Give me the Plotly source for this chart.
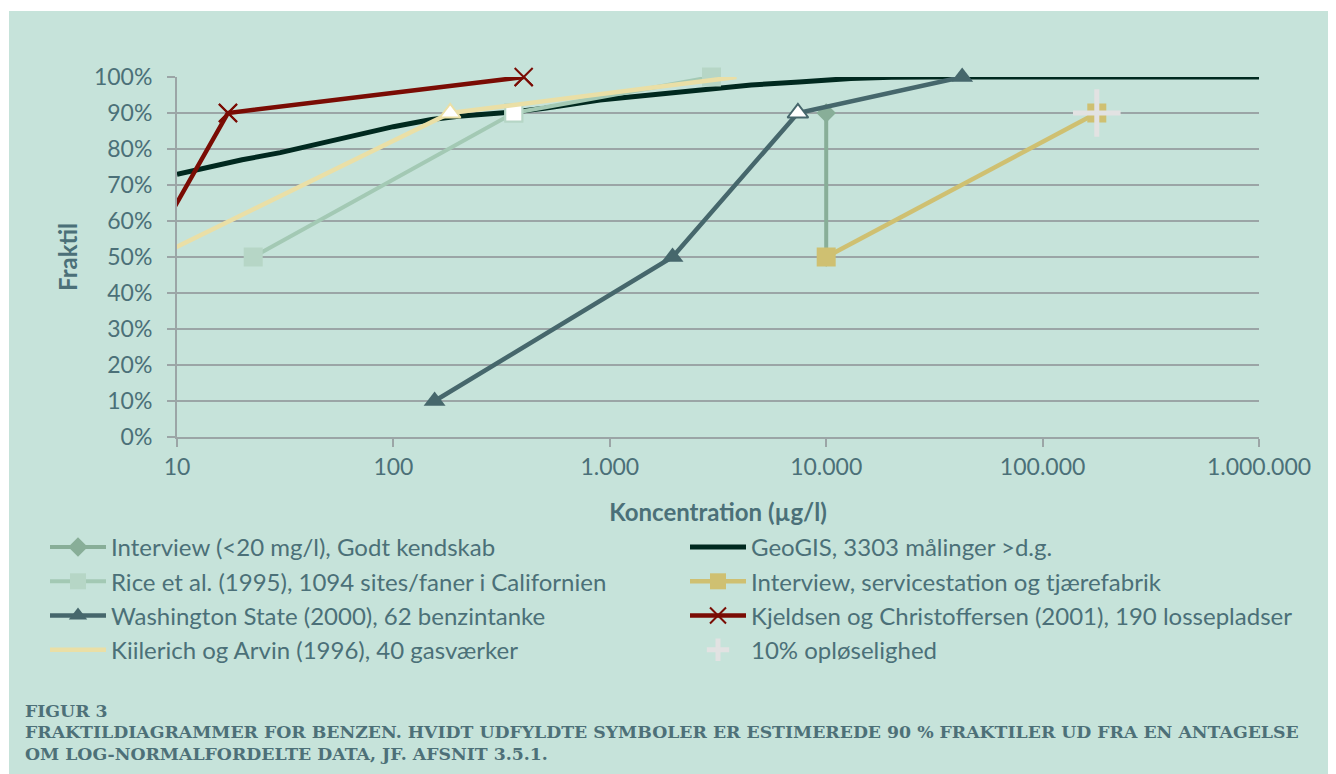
import plotly.graph_objects as go

# ---------------- data ----------------
godt_x = [10000, 10000]
godt_y = [0.50, 0.90]

geo_x = [10, 15, 20, 30, 50, 75, 100, 150, 200, 350, 500, 900, 1500,
         2600, 4500, 7500, 13000, 20000, 30000, 1000000]
geo_y = [0.73, 0.755, 0.77, 0.79, 0.822, 0.846, 0.862, 0.882, 0.891,
         0.902, 0.913, 0.936, 0.949, 0.964, 0.978, 0.986, 0.996, 0.999, 1.0, 1.0]

rice_x = [22.5, 360, 2950]
rice_y = [0.50, 0.90, 1.00]
rice_est_x = [360]
rice_est_y = [0.90]

serv_x = [10000, 178000]
serv_y = [0.50, 0.90]

wash_x = [155, 1950, 7400, 42500]
wash_y = [0.10, 0.50, 0.90, 1.00]
wash_est_x = [7400]
wash_est_y = [0.90]

kjeld_x = [7.2, 17.2, 400]
kjeld_y = [0.50, 0.90, 1.00]
kjeld_vis_x = [17.2, 400]
kjeld_vis_y = [0.90, 1.00]

kiil_x = [8, 183, 3850]
kiil_y = [0.50, 0.90, 1.00]
kiil_est_x = [183]
kiil_est_y = [0.90]

sol_x = [178000]
sol_y = [0.90]

x_tickvals = [10, 100, 1000, 10000, 100000, 1000000]
x_ticktext = ["10", "100", "1.000", "10.000", "100.000", "1.000.000"]
y_tickvals = [0, 0.1, 0.2, 0.3, 0.4, 0.5, 0.6, 0.7, 0.8, 0.9, 1.0]

caption_lines = [
    "FIGUR 3",
    "FRAKTILDIAGRAMMER FOR BENZEN. HVIDT UDFYLDTE SYMBOLER ER ESTIMEREDE 90 % FRAKTILER UD FRA EN ANTAGELSE",
    "OM LOG-NORMALFORDELTE DATA, JF. AFSNIT 3.5.1.",
]

# ---------------- style ----------------
FONT = "Lato"
TXT = "#4B7078"
GRID = "#9BA5A6"
BG = "#C6E3DA"

# figure coordinates (page is offset by the 8px body margin)
W, H = 1328, 766
L, R, T, B = 169, 1251, 69, 429
PW, PH = R - L, B - T


def px_x(p):
    return (p - L) / PW


def px_y(p):
    return (B - p) / PH


fig = go.Figure()

fig.add_trace(go.Scatter(
    x=godt_x, y=godt_y, mode="lines+markers", legend="legend",
    name="Interview (<20 mg/l), Godt kendskab",
    line=dict(color="#88AE98", width=4),
    marker=dict(symbol="diamond", size=15, color="#88AE98")))

fig.add_trace(go.Scatter(
    x=geo_x, y=geo_y, mode="lines", name="GeoGIS, 3303 målinger >d.g.",
    legend="legend2",
    line=dict(color="#00291F", width=5)))

fig.add_trace(go.Scatter(
    x=rice_x, y=rice_y, mode="lines+markers", cliponaxis=False, legend="legend",
    name="Rice et al. (1995), 1094 sites/faner i Californien",
    line=dict(color="#A3C9B4", width=4),
    marker=dict(symbol="square", size=19, color="#B6D6C6")))
fig.add_trace(go.Scatter(
    x=rice_est_x, y=rice_est_y, mode="markers", showlegend=False,
    marker=dict(symbol="square", size=17, color="white",
                line=dict(color="#B6D6C6", width=2))))

fig.add_trace(go.Scatter(
    x=serv_x, y=serv_y, mode="lines+markers", legend="legend2",
    name="Interview, servicestation og tjærefabrik",
    line=dict(color="#CFC071", width=4.5),
    marker=dict(symbol="square", size=19, color="#CFC071")))

fig.add_trace(go.Scatter(
    x=wash_x, y=wash_y, mode="lines+markers", cliponaxis=False, legend="legend",
    name="Washington State (2000), 62 benzintanke",
    line=dict(color="#46676C", width=4.5),
    marker=dict(symbol="triangle-up", size=19, color="#46676C")))
fig.add_trace(go.Scatter(
    x=wash_est_x, y=wash_est_y, mode="markers", showlegend=False,
    marker=dict(symbol="triangle-up", size=18, color="white",
                line=dict(color="#46676C", width=2))))

fig.add_trace(go.Scatter(
    x=kjeld_x, y=kjeld_y, mode="lines+markers", legend="legend2",
    name="Kjeldsen og Christoffersen (2001), 190 lossepladser",
    line=dict(color="#7A0C04", width=4.5),
    marker=dict(symbol="x-thin", size=18, color="#7A0C04",
                line=dict(color="#7A0C04", width=2))))
fig.add_trace(go.Scatter(
    x=kjeld_vis_x, y=kjeld_vis_y, mode="markers", showlegend=False,
    cliponaxis=False,
    marker=dict(symbol="x-thin", size=18, color="#7A0C04",
                line=dict(color="#7A0C04", width=2))))

fig.add_trace(go.Scatter(
    x=kiil_x, y=kiil_y, mode="lines", legend="legend",
    name="Kiilerich og Arvin (1996), 40 gasværker",
    line=dict(color="#EADFA6", width=4.5)))
fig.add_trace(go.Scatter(
    x=kiil_est_x, y=kiil_est_y, mode="markers", showlegend=False,
    marker=dict(symbol="triangle-up", size=18, color="white",
                line=dict(color="#EADFA6", width=2))))

fig.add_trace(go.Scatter(
    x=sol_x, y=sol_y, mode="markers", name="10% opløselighed",
    legend="legend2",
    marker=dict(symbol="cross-thin", size=34, color="#E2E2E2",
                line=dict(color="#E2E2E2", width=5))))

# background panel (thin white strip at top/left as in the reference)
fig.add_shape(type="rect", xref="paper", yref="paper", layer="below",
              x0=px_x(1), x1=px_x(W + 5), y0=px_y(H + 5), y1=px_y(3),
              fillcolor=BG, line=dict(width=0))

caption_y = [703, 724, 746]
for txt, yy in zip(caption_lines, caption_y):
    fig.add_annotation(text="<b>" + txt + "</b>", xref="paper", yref="paper",
                       x=px_x(15), y=px_y(yy), xanchor="left", yanchor="middle",
                       showarrow=False,
                       font=dict(family="DejaVu Serif", size=17.3, color="#4D7078"))

legend_common = dict(orientation="v", xanchor="left", yanchor="top",
                     itemwidth=56, bgcolor="rgba(0,0,0,0)",
                     font=dict(family=FONT, size=24, color=TXT),
                     traceorder="normal")

fig.update_layout(
    width=W, height=H,
    margin=dict(l=L, r=W - R, t=T, b=H - B, autoexpand=False),
    paper_bgcolor="white", plot_bgcolor="rgba(0,0,0,0)",
    font=dict(family=FONT, color=TXT, size=22),
    showlegend=True,
    legend=dict(x=px_x(37), y=px_y(517), **legend_common),
    legend2=dict(x=px_x(677), y=px_y(517), **legend_common),
    xaxis=dict(type="log", range=[1, 6], tickvals=x_tickvals, ticktext=x_ticktext,
               showgrid=False, showline=True, linecolor=GRID, linewidth=2,
               ticks="outside", ticklen=8, tickwidth=2, tickcolor=GRID,
               tickfont=dict(family=FONT, size=23, color=TXT),
               title=dict(text="<b>Koncentration (µg/l)</b>", standoff=26,
                          font=dict(family=FONT, size=24, color=TXT)),
               zeroline=False),
    yaxis=dict(range=[0, 1], tickvals=y_tickvals, tickformat=".0%",
               showgrid=True, gridcolor=GRID, gridwidth=2,
               showline=True, linecolor=GRID, linewidth=2,
               ticks="outside", ticklen=8, tickwidth=2, tickcolor=GRID,
               ticklabelstandoff=10,
               tickfont=dict(family=FONT, size=23, color=TXT),
               title=dict(text="<b>Fraktil</b>", standoff=10,
                          font=dict(family=FONT, size=24, color=TXT)),
               zeroline=False),
)

fig.write_html("out.html")
